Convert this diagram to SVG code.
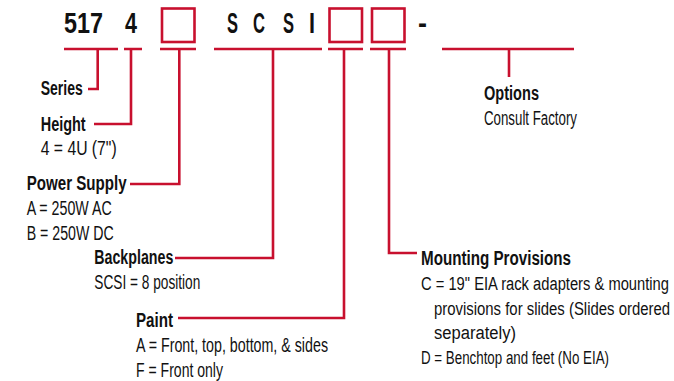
<svg xmlns="http://www.w3.org/2000/svg" width="674" height="381" viewBox="0 0 674 381">
<style>
text{font-family:"Liberation Sans Narrow","Liberation Sans",Arial,sans-serif;fill:#111}
.hd{font-size:29px;font-weight:bold}
.lb{font-size:20px;font-weight:bold}
.tx{font-size:19.5px}
.sm{font-size:18px}
.ln{fill:none;stroke:#C8102E;stroke-width:2.6}
.bx{fill:none;stroke:#C8102E;stroke-width:2.6}
</style>
<rect width="674" height="381" fill="#fff"/>
<g id="header">
<text class="hd" x="64" y="32.5" textLength="39" lengthAdjust="spacingAndGlyphs">517</text>
<text class="hd" x="125" y="32.5" textLength="12" lengthAdjust="spacingAndGlyphs">4</text>
<rect class="bx" x="162" y="8.5" width="32.5" height="33.5"/>
<text class="hd" x="227" y="32.5" textLength="11" lengthAdjust="spacingAndGlyphs">S</text>
<text class="hd" x="253" y="32.5" textLength="12" lengthAdjust="spacingAndGlyphs">C</text>
<text class="hd" x="283" y="32.5" textLength="11" lengthAdjust="spacingAndGlyphs">S</text>
<text class="hd" x="309" y="32.5" textLength="6" lengthAdjust="spacingAndGlyphs">I</text>
<rect class="bx" x="329.5" y="8.5" width="32.5" height="33.5"/>
<rect class="bx" x="372" y="8.5" width="32.5" height="33.5"/>
<text class="hd" x="418" y="32.5" textLength="9" lengthAdjust="spacingAndGlyphs">-</text>
</g>
<g id="connectors">
<path class="ln" d="M64 49H118M124 49H142M160 49H196M214 49H322M328 49H363M370 49H406M442 49H574"/>
<path class="ln" d="M97.7 49V89H88"/>
<path class="ln" d="M131 49V124H94"/>
<path class="ln" d="M179.3 49V184H130"/>
<path class="ln" d="M273 49V258H175"/>
<path class="ln" d="M344 49V318H178"/>
<path class="ln" d="M389 49V253H417"/>
<path class="ln" d="M509 49V77"/>
</g>
<g id="series">
<text class="lb" x="40.7" y="95" textLength="42" lengthAdjust="spacingAndGlyphs">Series</text>
</g>
<g id="height">
<text class="lb" x="40.7" y="130.5" textLength="45" lengthAdjust="spacingAndGlyphs">Height</text>
<text class="tx" x="40.7" y="154.5" textLength="76" lengthAdjust="spacingAndGlyphs">4 = 4U (7")</text>
</g>
<g id="power-supply">
<text class="lb" x="26.7" y="189.5" textLength="100" lengthAdjust="spacingAndGlyphs">Power Supply</text>
<text class="tx" x="26.7" y="215" textLength="85" lengthAdjust="spacingAndGlyphs">A = 250W AC</text>
<text class="tx" x="26.7" y="240" textLength="87" lengthAdjust="spacingAndGlyphs">B = 250W DC</text>
</g>
<g id="backplanes">
<text class="lb" x="94.3" y="264" textLength="79" lengthAdjust="spacingAndGlyphs">Backplanes</text>
<text class="tx" x="94.3" y="289" textLength="106" lengthAdjust="spacingAndGlyphs">SCSI = 8 position</text>
</g>
<g id="paint">
<text class="lb" x="136" y="326.5" textLength="37" lengthAdjust="spacingAndGlyphs">Paint</text>
<text class="tx" x="136" y="351.5" textLength="192" lengthAdjust="spacingAndGlyphs">A = Front, top, bottom, &amp; sides</text>
<text class="tx" x="136" y="376.5" textLength="87" lengthAdjust="spacingAndGlyphs">F = Front only</text>
</g>
<g id="mounting-provisions">
<text class="lb" x="421" y="265" textLength="150" lengthAdjust="spacingAndGlyphs">Mounting Provisions</text>
<text class="tx sm" x="421" y="290" textLength="248" lengthAdjust="spacingAndGlyphs">C = 19" EIA rack adapters &amp; mounting</text>
<text class="tx sm" x="434" y="314.5" textLength="236" lengthAdjust="spacingAndGlyphs">provisions for slides (Slides ordered</text>
<text class="tx sm" x="434" y="339" textLength="82" lengthAdjust="spacingAndGlyphs">separately)</text>
<text class="tx sm" x="421" y="363.5" textLength="188" lengthAdjust="spacingAndGlyphs">D = Benchtop and feet (No EIA)</text>
</g>
<g id="options">
<text class="lb" x="484" y="100" textLength="55" lengthAdjust="spacingAndGlyphs">Options</text>
<text class="tx" x="484" y="125" textLength="93" lengthAdjust="spacingAndGlyphs">Consult Factory</text>
</g>
</svg>
